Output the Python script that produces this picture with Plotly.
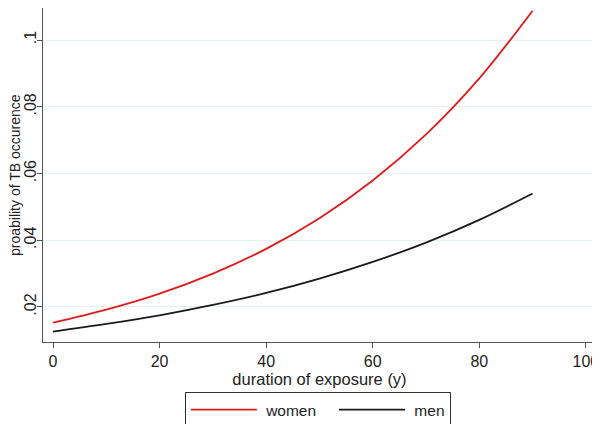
import plotly.graph_objects as go

exposure_years = [0, 10, 20, 30, 40, 50, 60, 70, 80, 90]
women_prob = [0.0153, 0.0192, 0.0240, 0.0300, 0.0374, 0.0466, 0.0579, 0.0717, 0.0885, 0.1088]
men_prob = [0.0126, 0.0149, 0.0175, 0.0206, 0.0242, 0.0285, 0.0335, 0.0393, 0.0461, 0.0540]

x_ticks = [0, 20, 40, 60, 80, 100]
y_ticks = [0.02, 0.04, 0.06, 0.08, 0.1]
y_tick_labels = [".02", ".04", ".06", ".08", ".1"]
series_names = ["women", "men"]

font_family = "Liberation Sans, Arial, sans-serif"
NB = "\u00a0"

fig = go.Figure()
fig.add_trace(go.Scatter(x=exposure_years, y=women_prob, mode="lines",
                         name=NB + series_names[0] + NB * 3,
                         line=dict(color="#e01a1a", width=1.8, shape="spline")))
fig.add_trace(go.Scatter(x=exposure_years, y=men_prob, mode="lines",
                         name=NB + series_names[1],
                         line=dict(color="#1a1a1a", width=1.8, shape="spline")))

fig.update_layout(
    width=600, height=424,
    margin=dict(l=35, r=12, t=0, b=90, autoexpand=False),
    paper_bgcolor="white", plot_bgcolor="white",
    font=dict(family=font_family, size=14, color="#222222"),
    xaxis=dict(range=[-1.88, 101.9], tickvals=x_ticks, showgrid=False, zeroline=False,
               showline=True, linecolor="#555555", linewidth=1.2,
               ticks="outside", ticklen=5, tickcolor="#555555",
               tickfont=dict(size=16), automargin=False,
               title=dict(text="duration of exposure (y)", standoff=2,
                          font=dict(size=16.5))),
    yaxis=dict(range=[0.0095, 0.1096], tickvals=y_ticks, ticktext=y_tick_labels,
               tickangle=-90, showgrid=True, gridcolor="#e6eff0", gridwidth=1,
               zeroline=False, showline=True, linecolor="#555555", linewidth=1.2,
               ticks="outside", ticklen=5, tickcolor="#555555",
               tickfont=dict(size=16), automargin=False, ticklabelstandoff=-5),
    legend=dict(orientation="h", x=0.497, xanchor="center", y=-0.1497, yanchor="top",
                bordercolor="#333333", borderwidth=1, bgcolor="white",
                itemwidth=66, font=dict(size=15.5)),
    annotations=[dict(text="proability of TB occurence", textangle=-90,
                      xref="paper", yref="paper", x=-0.0506, y=0.5,
                      xanchor="center", yanchor="middle", showarrow=False,
                      font=dict(size=14, color="#222222"))],
)

fig.write_html("out.html")
